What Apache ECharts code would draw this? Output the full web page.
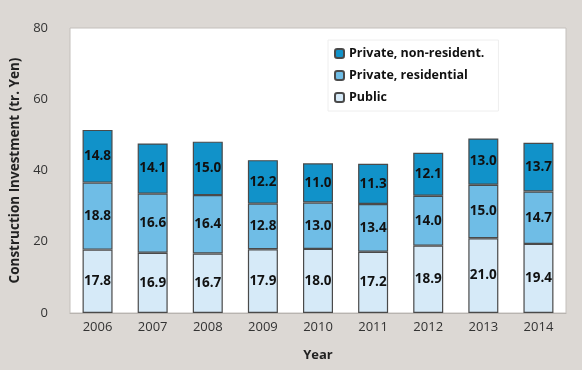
<!DOCTYPE html>
<html><head><meta charset="utf-8">
<script src="https://cdn.jsdelivr.net/npm/echarts@6/dist/echarts.min.js"></script>
<style>html,body{margin:0;padding:0;background:#dcd8d4;}#c{width:582px;height:370px;}</style>
</head><body><div id="c"></div>
<script>
var years = ['2006','2007','2008','2009','2010','2011','2012','2013','2014'];
var publicVals = [17.8,16.9,16.7,17.9,18.0,17.2,18.9,21.0,19.4];
var residentialVals = [18.8,16.6,16.4,12.8,13.0,13.4,14.0,15.0,14.7];
var nonResidentVals = [14.8,14.1,15.0,12.2,11.0,11.3,12.1,13.0,13.7];
var seriesNames = ['Public','Private, residential','Private, non-resident.'];
var yTicks = [0,20,40,60,80];

var font = 'Open Sans, DejaVu Sans, sans-serif';
function mk(name, vals, color){
  return {
    name: name, type: 'bar', stack: 'a', data: vals, barWidth: 30,
    itemStyle: {color: color, borderColor: '#4a4a4a', borderWidth: 1.2},
    label: {show: true, position: 'inside', color: '#111', fontWeight: 'bold', fontSize: 13.5, fontFamily: font,
      formatter: function(p){ return p.value.toFixed(1); }}
  };
}
var chart = echarts.init(document.getElementById('c'));
chart.setOption({
  backgroundColor: '#dcd8d4',
  animation: false,
  grid: {left: 70, right: 16, top: 28, bottom: 57, show: true, backgroundColor: '#ffffff', borderColor: '#c4c0bc', borderWidth: 1},
  legend: {
    data: [seriesNames[2], seriesNames[1], seriesNames[0]],
    orient: 'vertical', left: 328, top: 40, itemWidth: 9, itemHeight: 9, itemGap: 9,
    padding: [7, 14, 7, 6],
    backgroundColor: '#ffffff', borderColor: '#eeeeee', borderWidth: 1,
    textStyle: {color: '#111', fontWeight: 'bold', fontSize: 12.5, fontFamily: font}
  },
  xAxis: {
    type: 'category', data: years, name: 'Year', nameLocation: 'middle', nameGap: 36,
    nameTextStyle: {color: '#222', fontWeight: 'bold', fontSize: 13, fontFamily: font},
    axisLine: {lineStyle: {color: '#b8b4b0'}}, axisTick: {show: false},
    axisLabel: {color: '#333', fontSize: 13, fontFamily: font, margin: 8}
  },
  yAxis: {
    type: 'value', min: yTicks[0], max: yTicks[yTicks.length-1], interval: 20,
    name: 'Construction Investment (tr. Yen)', nameLocation: 'middle', nameGap: 42,
    nameTextStyle: {color: '#222', fontWeight: 'bold', fontSize: 13.5, fontFamily: font},
    axisLine: {show: false}, axisTick: {show: false}, splitLine: {show: false},
    axisLabel: {color: '#333', fontSize: 13, fontFamily: font, margin: 22}
  },
  series: [
    mk(seriesNames[0], publicVals, '#d6eaf8'),
    mk(seriesNames[1], residentialVals, '#6fbde6'),
    mk(seriesNames[2], nonResidentVals, '#1192c9')
  ]
});
</script></body></html>
